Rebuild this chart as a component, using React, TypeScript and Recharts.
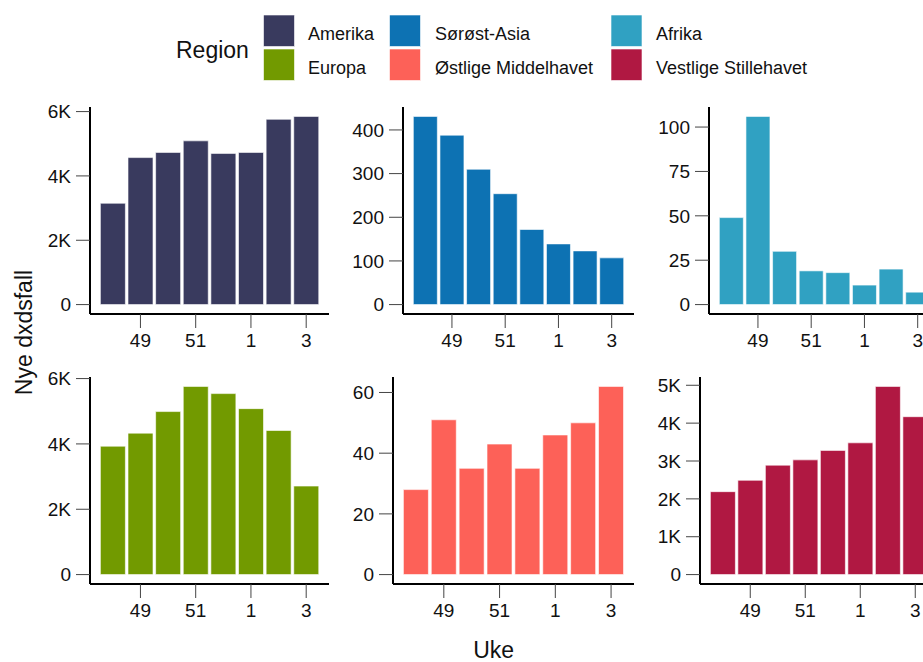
import React from "react";
import { BarChart, Bar, XAxis, YAxis } from "recharts";

const weeks = ["48", "49", "50", "51", "52", "1", "2", "3"];
const xTicks = ["49", "51", "1", "3"];

const amerika = [3150, 4570, 4730, 5090, 4700, 4730, 5760, 5850];
const sorostAsia = [431, 388, 310, 254, 172, 139, 123, 107];
const afrika = [49, 106, 30, 19, 18, 11, 20, 7];
const europa = [3930, 4330, 4990, 5760, 5540, 5080, 4410, 2710];
const ostligeMiddelhavet = [28, 51, 35, 43, 35, 46, 50, 62];
const vestligeStillehavet = [2190, 2490, 2890, 3030, 3280, 3480, 4970, 4170];

const ticksAmerika = [0, 2000, 4000, 6000];
const ticksSorostAsia = [0, 100, 200, 300, 400];
const ticksAfrika = [0, 25, 50, 75, 100];
const ticksEuropa = [0, 2000, 4000, 6000];
const ticksOstlige = [0, 20, 40, 60];
const ticksVestlige = [0, 1000, 2000, 3000, 4000, 5000];

const regionNames = ["Amerika", "Sørøst-Asia", "Afrika", "Europa", "Østlige Middelhavet", "Vestlige Stillehavet"];
const regionColors = ["#393a5e", "#0d72b3", "#30a1c2", "#729a00", "#fd6158", "#b01842"];

const FONT = "Liberation Sans, Arial, sans-serif";

const panels = [
  { values: amerika, ticks: ticksAmerika, color: regionColors[0], axisX: 90, plotRight: 329, axisTop: 107 },
  { values: sorostAsia, ticks: ticksSorostAsia, color: regionColors[1], axisX: 403, plotRight: 634, axisTop: 107 },
  { values: afrika, ticks: ticksAfrika, color: regionColors[2], axisX: 709, plotRight: 940, axisTop: 107 },
  { values: europa, ticks: ticksEuropa, color: regionColors[3], axisX: 90, plotRight: 329, axisTop: 377 },
  { values: ostligeMiddelhavet, ticks: ticksOstlige, color: regionColors[4], axisX: 393, plotRight: 634, axisTop: 377 },
  { values: vestligeStillehavet, ticks: ticksVestlige, color: regionColors[5], axisX: 700, plotRight: 938, axisTop: 377 },
];

const PLOT_H = 207;
const YW = 60;
const MT = 10;
const MR = 10;
const XH = 45;

const fmt = (v: number) => (v >= 1000 ? `${v / 1000}K` : String(v));

function Panel({ p }: { p: (typeof panels)[number] }) {
  const data = weeks.map((w, i) => ({ week: w, value: p.values[i] }));
  const max = Math.max(...p.values);
  const width = YW + (p.plotRight - p.axisX) + MR;
  const height = MT + PLOT_H + XH;
  const tickStyle = { fontSize: 19, fill: "#111", fontFamily: FONT };
  return (
    <div style={{ position: "absolute", left: p.axisX - YW, top: p.axisTop - MT, fontFamily: FONT, fontSize: 19 }}>
      <BarChart width={width} height={height} data={data} margin={{ top: MT, right: MR, bottom: 0, left: 0 }} barCategoryGap="5%">
        <XAxis
          dataKey="week"
          type="category"
          ticks={xTicks}
          interval={0}
          padding={{ left: 9, right: 9 }}
          height={XH}
          tickSize={14}
          tickMargin={6}
          fontSize={19}
          fontFamily={FONT}
          axisLine={{ stroke: "#000", strokeWidth: 2 }}
          tickLine={{ stroke: "#444", strokeWidth: 1 }}
          tick={tickStyle}
        />
        <YAxis
          type="number"
          width={YW}
          domain={[-0.05 * max, 1.05 * max]}
          allowDataOverflow
          ticks={p.ticks}
          interval={0}
          tickFormatter={fmt}
          tickSize={14}
          tickMargin={5}
          fontSize={19}
          fontFamily={FONT}
          axisLine={{ stroke: "#000", strokeWidth: 2 }}
          tickLine={{ stroke: "#444", strokeWidth: 1 }}
          tick={tickStyle}
        />
        <Bar dataKey="value" fill={p.color} stroke="#ffffff" strokeWidth={0.6} isAnimationActive={false} />
      </BarChart>
    </div>
  );
}

const legendColX = [263.5, 389.5, 611];
const legendTextX = [308, 435, 656];

export default function App() {
  return (
    <div
      style={{
        position: "fixed",
        left: 0,
        top: 0,
        width: 923,
        height: 662,
        overflow: "hidden",
        background: "#fff",
        fontFamily: FONT,
      }}
    >
      {panels.map((p, i) => (
        <Panel key={i} p={p} />
      ))}
      <svg width={923} height={662} style={{ position: "absolute", left: 0, top: 0, pointerEvents: "none" }}>
        <text x={176} y={58} fontSize={23} fill="#111" fontFamily={FONT}>
          Region
        </text>
        {regionNames.map((name, i) => {
          const col = i % 3;
          const row = Math.floor(i / 3);
          const y0 = row === 0 ? 15 : 49;
          return (
            <g key={name}>
              <rect x={legendColX[col]} y={y0} width={31} height={31.5} fill={regionColors[i]} stroke="#ffffff" strokeWidth={0.6} />
              <text x={legendTextX[col]} y={row === 0 ? 40 : 73.5} fontSize={18} fill="#111" fontFamily={FONT}>
                {name}
              </text>
            </g>
          );
        })}
        <text x={493.7} y={658} fontSize={23} textAnchor="middle" fill="#111" fontFamily={FONT}>
          Uke
        </text>
        <text transform="translate(31.5, 332.5) rotate(-90)" fontSize={23} textAnchor="middle" fill="#111" fontFamily={FONT}>
          Nye dxdsfall
        </text>
      </svg>
    </div>
  );
}
